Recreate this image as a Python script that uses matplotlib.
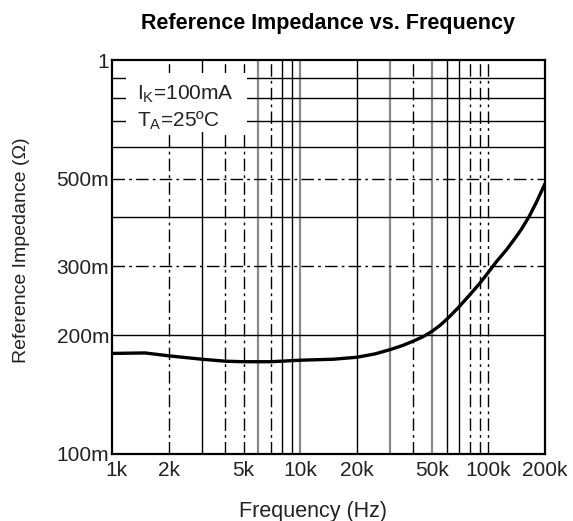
import matplotlib
matplotlib.use("Agg")
import matplotlib.pyplot as plt
import matplotlib.transforms as mtrans
from matplotlib.patches import Rectangle

plt.rcParams['font.family'] = ['Liberation Sans', 'DejaVu Sans']
plt.rcParams['mathtext.fontset'] = 'custom'
plt.rcParams['mathtext.rm'] = 'Liberation Sans'
plt.rcParams['mathtext.it'] = 'Liberation Sans:italic'

# curve
freq = [1000, 1500, 2000, 3000, 4000, 5000, 7000, 10000, 15000, 20000,
        25000, 30000, 35000, 40000, 45000, 50000, 55000, 60000, 65000, 70000,
        80000, 90000, 100000, 110000, 125000, 140000, 150000, 165000, 180000, 200000]
imped = [0.180, 0.1805, 0.1775, 0.174, 0.172, 0.1715, 0.1715, 0.173, 0.174, 0.176,
         0.1795, 0.1840, 0.1885, 0.1935, 0.1985, 0.2045, 0.2115, 0.2195, 0.2280, 0.2365,
         0.254, 0.271, 0.289, 0.307, 0.330, 0.355, 0.372, 0.401, 0.435, 0.485]

# ticks
xticks = [1e3, 2e3, 5e3, 1e4, 2e4, 5e4, 1e5, 2e5]
xticklabels = ["1k", "2k", "5k", "10k", "20k", "50k", "100k", "200k"]
yticks = [0.1, 0.2, 0.3, 0.5, 1.0]
yticklabels = ["100m", "200m", "300m", "500m", "1"]

# grid lines (solid / grey / dash-dot like the datasheet)
vsolid = [3e3, 8e3, 9e3, 2e4, 6e4, 7e4]
vgrey = [6e3, 1e4, 3e4, 5e4]
vdash = [2e3, 4e3, 5e3, 7e3, 4e4, 8e4, 9e4, 1e5]
hsolid = [0.2, 0.4, 0.6, 0.7, 0.8, 0.9]
hdash = [0.3, 0.5]

fig = plt.figure(figsize=(5.73, 5.21), dpi=100)
ax = fig.add_axes([0.1955, 0.1286, 0.7555, 0.7562])
ax.set_xscale('log')
ax.set_yscale('log')
ax.set_xlim(1e3, 2e5)
ax.set_ylim(0.1, 1.0)

dd = (9, 3, 2, 3)
for v in vsolid:
    ax.axvline(v, color='black', lw=1.0, zorder=1)
for v in vgrey:
    ax.axvline(v, color='#8a8a8a', lw=1.6, zorder=1)
for v in vdash:
    ax.axvline(v, color='black', lw=1.0, dashes=dd, zorder=1)
for h in hsolid:
    ax.axhline(h, color='black', lw=1.0, zorder=1)
for h in hdash:
    ax.axhline(h, color='black', lw=1.0, dashes=dd, zorder=1)

# white box behind the conditions text
ax.add_patch(Rectangle((0.032, 0.817), 0.28, 0.15, transform=ax.transAxes,
                       facecolor='white', edgecolor='none', zorder=2))
ax.text(0.058, 0.914, r'I$_\mathrm{K}$=100mA', transform=ax.transAxes,
        fontsize=15, va='center', ha='left', zorder=3, color='#222222')
ax.text(0.058, 0.846, r'T$_\mathrm{A}$=25ºC', transform=ax.transAxes,
        fontsize=15, va='center', ha='left', zorder=3, color='#222222')

ax.plot(freq, imped, color='black', lw=2.4, zorder=4, solid_capstyle='round')

ax.minorticks_off()
ax.set_xticks(xticks)
ax.set_xticklabels(xticklabels)
ax.set_yticks(yticks)
ax.set_yticklabels(yticklabels)
ax.tick_params(axis='both', length=0, labelsize=15, colors='#222222')
ax.tick_params(axis='x', pad=5)
ax.tick_params(axis='y', pad=2)
for s in ax.spines.values():
    s.set_linewidth(1.6)
    s.set_zorder(5)

# nudge "1k" a bit right so it clears "100m"
lab = ax.get_xticklabels()[0]
lab.set_transform(lab.get_transform() + mtrans.ScaledTranslation(4 / 100, 0, fig.dpi_scale_trans))

ax.set_title("Reference Impedance vs. Frequency", fontsize=15.5, fontweight='bold', pad=22)
fig.text(313 / 573, 1 - 511 / 521, "Frequency (Hz)", ha='center', va='center',
         fontsize=15.5, color='#222222')
fig.text(22 / 573, 1 - 250 / 521, "Reference Impedance (Ω)", ha='center', va='center',
         rotation=90, fontsize=14, color='#222222')

fig.savefig("out.png", dpi=100)
